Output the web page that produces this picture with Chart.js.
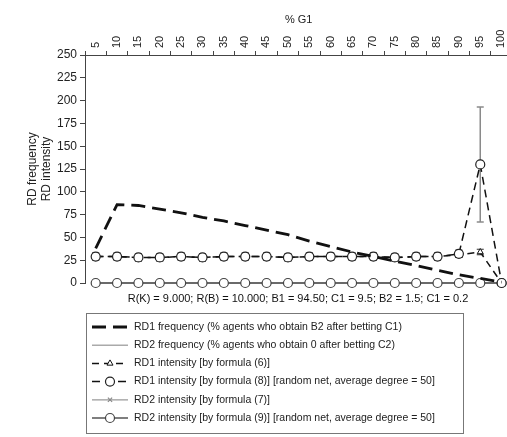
<!DOCTYPE html>
<html><head><meta charset="utf-8">
<script src="https://cdn.jsdelivr.net/npm/chart.js@4.4.0/dist/chart.umd.min.js"></script>
<style>html,body{margin:0;padding:0;background:#fff;overflow:hidden;width:507px;height:437px}</style>
</head><body>
<div style="position:relative;width:518px;height:437px"><canvas id="c"></canvas></div>
<script>
// ---- data ----
const categories = ['5','10','15','20','25','30','35','40','45','50','55','60','65','70','75','80','85','90','95','100'];
const rd1Frequency   = [38,86,85,81,77,72,68,63,58,53,46,40,34,29,24,19,14,9,5,1];
const rd2Frequency   = [0,0,0,0,0,0,0,0,0,0,0,0,0,0,0,0,0,0,0,0];
const rd1Intensity6  = [29,29,28,28,29,28,29,29,29,28,29,29,29,29,28,29,29,31,34,0];
const rd1Intensity6Err = [3,3,3,3,3,3,3,3,3,3,3,3,3,3,3,3,3,3,3,0];
const rd1Intensity8  = [29,29,28,28,29,28,29,29,29,28,29,29,29,29,28,29,29,32,130,0];
const rd1Intensity8Err = [4,4,4,4,4,4,4,4,4,4,4,4,4,4,4,4,4,4,63,0];
const rd2Intensity7  = [0,0,0,0,0,0,0,0,0,0,0,0,0,0,0,0,0,0,0,0];
const rd2Intensity9  = [0,0,0,0,0,0,0,0,0,0,0,0,0,0,0,0,0,0,0,0];
const yTicks = [0,25,50,75,100,125,150,175,200,225,250];
const seriesLabels = [
  'RD1 frequency (% agents who obtain B2 after betting C1)',
  'RD2 frequency (% agents who obtain 0 after betting C2)',
  'RD1 intensity [by formula (6)]',
  'RD1 intensity [by formula (8)] [random net, average degree = 50]',
  'RD2 intensity [by formula (7)]',
  'RD2 intensity [by formula (9)] [random net, average degree = 50]'
];
const xTitle = '% G1';
const yTitle = ['RD frequency', 'RD intensity'];
const noteText = 'R(K) = 9.000; R(B) = 10.000; B1 = 94.50; C1 = 9.5; B2 = 1.5; C1 = 0.2';

const FONT = "'Liberation Sans', Arial, Helvetica, sans-serif";

const errorBars = {
  id: 'errorBars',
  beforeDatasetsDraw(chart) {
    const ctx = chart.ctx, y = chart.scales.y;
    chart.data.datasets.forEach((ds, i) => {
      if (!ds.errors) return;
      const meta = chart.getDatasetMeta(i);
      meta.data.forEach((pt, j) => {
        const e = ds.errors[j];
        if (!e) return;
        const v = ds.data[j];
        const y1 = y.getPixelForValue(v - e), y2 = y.getPixelForValue(v + e);
        ctx.save();
        ctx.strokeStyle = e > 20 ? '#8a8a8a' : '#333';
        ctx.lineWidth = e > 20 ? 1.5 : 1.2;
        ctx.beginPath();
        ctx.moveTo(pt.x, y1); ctx.lineTo(pt.x, y2);
        ctx.moveTo(pt.x - 3.5, y1); ctx.lineTo(pt.x + 3.5, y1);
        ctx.moveTo(pt.x - 3.5, y2); ctx.lineTo(pt.x + 3.5, y2);
        ctx.stroke();
        ctx.restore();
      });
    });
  }
};

const boxLegend = {
  id: 'boxLegend',
  afterDraw(chart) {
    const ctx = chart.ctx;
    const a = chart.chartArea;
    ctx.save();
    // note line under the plot
    ctx.font = '11px ' + FONT;
    ctx.fillStyle = '#111';
    ctx.textAlign = 'center';
    ctx.textBaseline = 'middle';
    ctx.fillText(noteText, (a.left + 511) / 2, 299);
    // legend box
    const L = 86, R = 463, T = 313, B = 433;
    ctx.strokeStyle = '#777'; ctx.lineWidth = 1;
    ctx.strokeRect(L + 0.5, T + 0.5, R - L, B - T);
    ctx.font = '10.5px ' + FONT;
    ctx.fillStyle = '#222';
    ctx.textAlign = 'left';
    chart.data.datasets.forEach((ds, i) => {
      const yy = T + 14 + i * 18.2;
      ctx.save();
      ctx.strokeStyle = ds.borderColor;
      ctx.lineWidth = ds.borderWidth;
      ctx.setLineDash(ds.borderDash || []);
      ctx.beginPath(); ctx.moveTo(L + 6, yy); ctx.lineTo(L + 42, yy); ctx.stroke();
      ctx.restore();
      if (ds.pointRadius > 0) {
        ctx.save();
        ctx.fillStyle = ds.pointBackgroundColor;
        ctx.strokeStyle = ds.pointBorderColor;
        ctx.lineWidth = ds.pointBorderWidth;
        Chart.helpers.drawPoint(ctx, {pointStyle: ds.pointStyle, radius: ds.pointRadius, rotation: 0, borderWidth: ds.pointBorderWidth}, L + 24, yy);
        ctx.restore();
      }
      ctx.fillText(ds.label, L + 48, yy);
    });
    ctx.restore();
  }
};

new Chart(document.getElementById('c'), {
  type: 'line',
  data: {
    labels: categories,
    datasets: [
      {label: seriesLabels[0], data: rd1Frequency, borderColor: '#111', borderWidth: 2.8, borderDash: [14, 7], pointRadius: 0, pointStyle: 'circle', order: 0},
      {label: seriesLabels[1], data: rd2Frequency, borderColor: '#aaa', borderWidth: 1.5, pointRadius: 0, pointStyle: 'circle', order: 5},
      {label: seriesLabels[2], data: rd1Intensity6, errors: rd1Intensity6Err, borderColor: '#111', borderWidth: 1.5, borderDash: [7, 5], pointStyle: 'triangle', pointRadius: 3.5, pointBackgroundColor: '#fff', pointBorderColor: '#111', pointBorderWidth: 1, order: 2},
      {label: seriesLabels[3], data: rd1Intensity8, errors: rd1Intensity8Err, borderColor: '#111', borderWidth: 1.5, borderDash: [8, 5], pointStyle: 'circle', pointRadius: 4.5, pointBackgroundColor: '#fff', pointBorderColor: '#222', pointBorderWidth: 1.2, order: 1},
      {label: seriesLabels[4], data: rd2Intensity7, borderColor: '#999', borderWidth: 1.2, pointStyle: 'crossRot', pointRadius: 3, pointBackgroundColor: '#999', pointBorderColor: '#888', pointBorderWidth: 1.2, order: 4},
      {label: seriesLabels[5], data: rd2Intensity9, borderColor: '#555', borderWidth: 1.5, pointStyle: 'circle', pointRadius: 4.5, pointBackgroundColor: '#fff', pointBorderColor: '#444', pointBorderWidth: 1.2, order: 3}
    ]
  },
  options: {
    responsive: true,
    maintainAspectRatio: false,
    animation: false,
    clip: false,
    layout: {padding: {left: 0, right: 0, top: 8, bottom: 154}},
    plugins: {
      legend: {display: false},
      tooltip: {enabled: false}
    },
    scales: {
      x: {
        type: 'category', position: 'top', offset: true,
        grid: {offset: true, drawOnChartArea: false, tickLength: 4, color: '#444'},
        border: {display: true, color: '#444', width: 1},
        ticks: {minRotation: 90, maxRotation: 90, autoSkip: false, labelOffset: 13, color: '#222', padding: 3, font: {family: FONT, size: 11}},
        title: {display: true, text: xTitle, color: '#222', font: {family: FONT, size: 11}, padding: {top: 5, bottom: 4}},
        afterFit(s) { s.height = 47; s.paddingLeft = 0; s.paddingRight = 0; }
      },
      y: {
        type: 'linear', min: 0, max: 250,
        afterBuildTicks(s) { s.ticks = yTicks.map(v => ({value: v})); },
        grid: {drawOnChartArea: false, tickLength: 5, color: '#444'},
        border: {display: true, color: '#444', width: 1},
        ticks: {color: '#222', padding: 3, font: {family: FONT, size: 12}},
        title: {display: true, text: yTitle, color: '#222', font: {family: FONT, size: 12}, padding: {top: 25, bottom: 0}},
        afterFit(s) { s.width = 85; s.paddingTop = 0; s.paddingBottom = 0; }
      }
    }
  },
  plugins: [errorBars, boxLegend]
});
</script>
</body></html>
